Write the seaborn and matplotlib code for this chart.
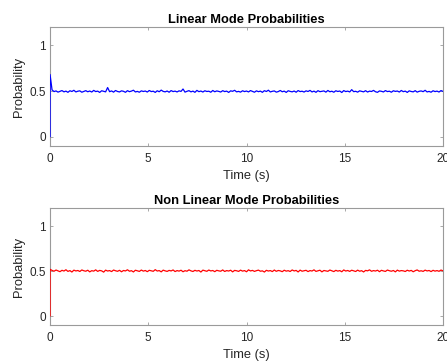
import numpy as np
import pandas as pd
import matplotlib
matplotlib.use("Agg")
import matplotlib.pyplot as plt
import seaborn as sns

# Sampled mode probabilities over 20 s; the first two samples share t = 0
linear_prob = [
    0.000, 0.680, 0.512, 0.494, 0.501, 0.488, 0.497, 0.505, 0.491, 0.499, 0.486, 0.503, 0.495, 0.508, 0.490, 0.498, 0.502, 0.487, 0.496, 0.504,
    0.492, 0.500, 0.489, 0.507, 0.494, 0.499, 0.485, 0.503, 0.497, 0.491, 0.538, 0.493, 0.501, 0.488, 0.506, 0.495, 0.490, 0.502, 0.497, 0.486,
    0.504, 0.493, 0.499, 0.509, 0.490, 0.496, 0.487, 0.502, 0.495, 0.500, 0.489, 0.506, 0.494, 0.498, 0.485, 0.503, 0.492, 0.510, 0.496, 0.491,
    0.500, 0.487, 0.505, 0.494, 0.499, 0.490, 0.502, 0.496, 0.522, 0.488, 0.497, 0.504, 0.491, 0.499, 0.486, 0.507, 0.493, 0.500, 0.489, 0.503,
    0.495, 0.498, 0.487, 0.506, 0.492, 0.501, 0.496, 0.489, 0.504, 0.494, 0.499, 0.485, 0.502, 0.497, 0.508, 0.491, 0.496, 0.488, 0.503, 0.494,
    0.500, 0.490, 0.505, 0.496, 0.487, 0.502, 0.493, 0.499, 0.486, 0.504, 0.495, 0.509, 0.490, 0.497, 0.501, 0.488, 0.494, 0.506, 0.492, 0.499,
    0.485, 0.503, 0.496, 0.491, 0.500, 0.487, 0.505, 0.494, 0.498, 0.489, 0.502, 0.495, 0.507, 0.490, 0.499, 0.486, 0.504, 0.493, 0.497, 0.501,
    0.488, 0.506, 0.492, 0.498, 0.487, 0.503, 0.495, 0.500, 0.484, 0.505, 0.494, 0.499, 0.490, 0.515, 0.493, 0.497, 0.488, 0.502, 0.496, 0.491,
    0.504, 0.489, 0.499, 0.495, 0.507, 0.492, 0.486, 0.501, 0.497, 0.490, 0.505, 0.494, 0.498, 0.487, 0.503, 0.496, 0.500, 0.489, 0.506, 0.493,
    0.499, 0.485, 0.502, 0.495, 0.491, 0.504, 0.488, 0.497, 0.501, 0.493, 0.508, 0.490, 0.496, 0.487, 0.503, 0.494, 0.499, 0.489, 0.505, 0.496,
]

nonlinear_prob = [
    0.000, 0.520, 0.508, 0.499, 0.512, 0.503, 0.494, 0.509, 0.501, 0.515, 0.497, 0.506, 0.490, 0.511, 0.502, 0.507, 0.496, 0.513, 0.504, 0.499,
    0.510, 0.492, 0.505, 0.500, 0.514, 0.497, 0.508, 0.503, 0.489, 0.511, 0.501, 0.506, 0.495, 0.512, 0.504, 0.498, 0.509, 0.493, 0.507, 0.502,
    0.515, 0.499, 0.505, 0.491, 0.510, 0.503, 0.497, 0.512, 0.500, 0.507, 0.494, 0.509, 0.504, 0.498, 0.516, 0.501, 0.506, 0.492, 0.511, 0.503,
    0.497, 0.508, 0.502, 0.513, 0.495, 0.506, 0.500, 0.510, 0.493, 0.505, 0.499, 0.514, 0.503, 0.496, 0.509, 0.501, 0.507, 0.490, 0.511, 0.504,
    0.498, 0.512, 0.502, 0.507, 0.494, 0.509, 0.503, 0.499, 0.513, 0.496, 0.506, 0.501, 0.510, 0.492, 0.508, 0.504, 0.497, 0.511, 0.500, 0.506,
    0.493, 0.514, 0.502, 0.508, 0.497, 0.505, 0.511, 0.499, 0.503, 0.490, 0.509, 0.501, 0.506, 0.495, 0.512, 0.498, 0.507, 0.503, 0.494, 0.510,
    0.500, 0.505, 0.496, 0.513, 0.502, 0.508, 0.491, 0.511, 0.499, 0.504, 0.509, 0.495, 0.506, 0.501, 0.514, 0.497, 0.503, 0.510, 0.492, 0.507,
    0.502, 0.498, 0.512, 0.504, 0.495, 0.509, 0.500, 0.506, 0.493, 0.513, 0.501, 0.507, 0.497, 0.510, 0.503, 0.496, 0.511, 0.499, 0.505, 0.491,
    0.508, 0.503, 0.514, 0.498, 0.506, 0.501, 0.510, 0.494, 0.509, 0.502, 0.497, 0.512, 0.504, 0.499, 0.507, 0.492, 0.511, 0.500, 0.506, 0.503,
    0.496, 0.510, 0.501, 0.508, 0.493, 0.505, 0.513, 0.499, 0.504, 0.497, 0.511, 0.502, 0.507, 0.495, 0.509, 0.500, 0.506, 0.498, 0.512, 0.503,
]

titles = ["Linear Mode Probabilities", "Non Linear Mode Probabilities"]
colors = ["#0000ff", "#ff0000"]
x_ticks = [0, 5, 10, 15, 20]
y_ticks = [0, 0.5, 1]
y_tick_labels = ["0", "0.5", "1"]

# initial state at t = 0, then evenly spaced samples from 0 to 20 s
time = np.concatenate([[0.0], np.linspace(0.0, 20.0, len(linear_prob) - 1)])

sns.set_theme(style="ticks")
plt.rcParams["font.family"] = ["Liberation Sans", "DejaVu Sans"]

fig = plt.figure(figsize=(4.47, 3.64), dpi=100)
axes = [
    fig.add_axes([0.112, 0.599, 0.879, 0.327]),
    fig.add_axes([0.112, 0.107, 0.879, 0.321]),
]

axis_grey = "#9a9a9a"
text_grey = "#262626"

for ax, series, title, color in zip(axes, [linear_prob, nonlinear_prob], titles, colors):
    df = pd.DataFrame({"Time (s)": time, "Probability": series})
    sns.lineplot(data=df, x="Time (s)", y="Probability", ax=ax, color=color,
                 linewidth=0.9, estimator=None, sort=False)
    for line in ax.get_lines():
        line.set_zorder(3)
    ax.set_xlim(0, 20)
    ax.set_ylim(-0.1, 1.2)
    ax.set_xticks(x_ticks)
    ax.set_xticklabels([str(t) for t in x_ticks])
    ax.set_yticks(y_ticks)
    ax.set_yticklabels(y_tick_labels)
    ax.set_title(title, fontsize=9.3, fontweight="bold", color="black", pad=3)
    ax.set_xlabel("Time (s)", fontsize=9.3, color=text_grey, labelpad=3.5)
    ax.set_ylabel("Probability", fontsize=9.3, color=text_grey, labelpad=3)
    ax.tick_params(direction="in", length=2.5, width=0.6, colors=axis_grey,
                   labelcolor=text_grey, labelsize=8.5, top=True, right=True)
    ax.tick_params(axis="x", pad=5)
    ax.tick_params(axis="y", pad=3)
    for side in ["top", "right", "bottom", "left"]:
        ax.spines[side].set_visible(True)
        ax.spines[side].set_color(axis_grey)
        ax.spines[side].set_linewidth(0.8)

fig.savefig("out.png", dpi=100)
